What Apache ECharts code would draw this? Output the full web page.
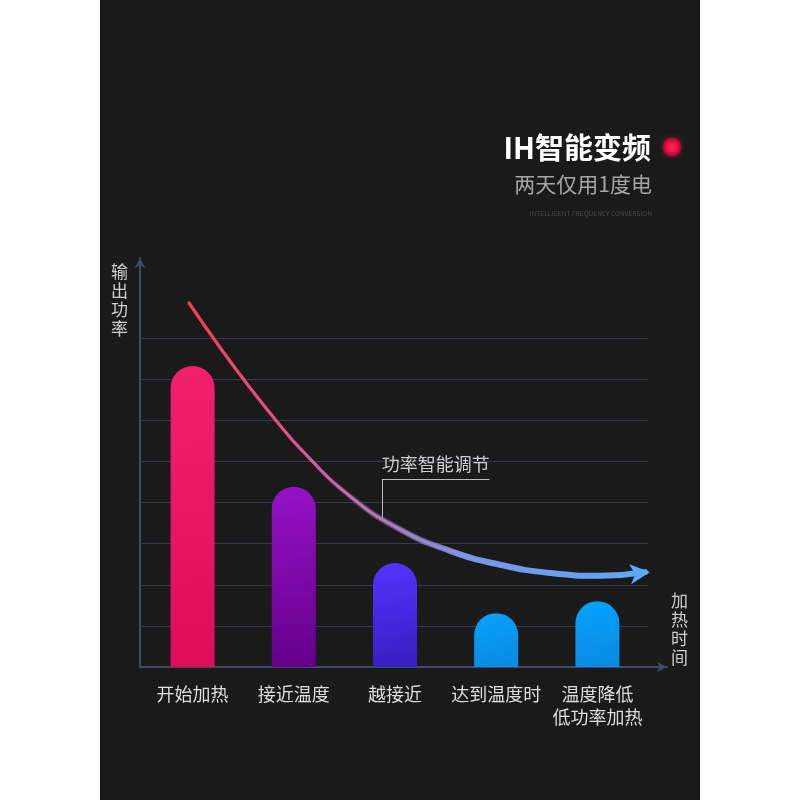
<!DOCTYPE html>
<html><head><meta charset="utf-8">
<script src="https://cdn.jsdelivr.net/npm/echarts@6/dist/echarts.min.js"></script>
<style>
html,body{margin:0;padding:0;background:#fff}
#c{width:800px;height:800px;background:linear-gradient(to right,#fff 0,#fff 100px,#1a1a1a 100px,#1a1a1a 700px,#fff 700px)}
</style>
</head><body><div id="c"></div><script>
// ---- data ----
const categories = ['开始加热', '接近温度', '越接近', '达到温度时', '温度降低\n低功率加热'];
const powerValues = [7.32, 4.38, 2.53, 1.31, 1.60];
const curveTime  = [0.930, 1.518, 2.087, 2.562, 3.036, 3.985, 4.934, 5.882, 6.831, 7.780, 8.729, 9.583];
const curvePower = [8.900, 7.812, 6.826, 6.059, 5.347, 4.174, 3.367, 2.841, 2.499, 2.298, 2.230, 2.320];
const calloutTime = 4.59;
const calloutPower = [3.65, 4.60];
const calloutEndTime = 6.63;
const calloutText = '功率智能调节';
const titleMain = 'IH智能变频';
const titleSub = '两天仅用1度电';
const titleTiny = 'INTELLIGENT FREQUENCY CONVERSION';
const yName = '输出功率';
const xName = '加热时间';

// ---- styles ----
const F = '"Noto Sans CJK SC","Noto Sans",sans-serif';
const barPalette = [
  ['#f3206f', '#df0c5b'],
  ['#9512c6', '#66008c'],
  ['#5434ff', '#381ec4'],
  ['#06a2ff', '#0a8ce4'],
  ['#06a2ff', '#0a8ce4']
];
function grad(stops) {
  return {type: 'linear', x: 188, y: 0, x2: 652, y2: 0, global: true,
          colorStops: stops.map(s => ({offset: s[0], color: s[1]}))};
}
const curveGrad = grad([
  [0, '#f53c58'], [0.2, '#e2508a'], [0.42, '#ac7cc0'], [0.6, '#7c96e6'], [1, '#5aa8fa']
]);
const curveGradThick = grad([
  [0, 'rgba(245,60,88,0)'], [0.28, 'rgba(215,88,148,0)'], [0.45, 'rgba(165,128,198,0.55)'],
  [0.6, 'rgba(124,150,230,1)'], [1, 'rgba(90,168,250,1)']
]);
const axisColor = '#3e4a66';
const gridColor = '#343b4a';

const chart = echarts.init(document.getElementById('c'), null, {renderer: 'canvas'});

function curveSeries(w, color, withArrow, z) {
  const d = curveTime.map((t, i) => {
    const item = {value: [t, curvePower[i]]};
    if (withArrow && i === curveTime.length - 1) {
      item.symbol = 'arrow';
      item.symbolSize = [15, 20];
      item.symbolRotate = -84;
      item.symbolOffset = [5, 0];
      item.itemStyle = {color: '#5eaafa'};
    }
    return item;
  });
  return {
    type: 'line', xAxisIndex: 0, yAxisIndex: 0, data: d, smooth: 0.5,
    symbol: 'none', silent: true, z: z, animation: false,
    lineStyle: {width: w, color: color, cap: 'round'}
  };
}

const baseCurve = curveSeries(3.2, curveGrad, true, 6);
baseCurve.markLine = {
  silent: true, symbol: ['none', 'none'], animation: false,
  label: {show: false},
  lineStyle: {color: '#bdbdbd', width: 1, type: 'solid'},
  data: [
    [{coord: [calloutTime, calloutPower[0]]}, {coord: [calloutTime, calloutPower[1]]}],
    [{coord: [calloutTime, calloutPower[1]],
      label: {show: true, formatter: calloutText, position: 'insideMiddleTop', distance: 6,
              color: '#cfcfcf', fontSize: 18, fontFamily: F}},
     {coord: [calloutEndTime, calloutPower[1]]}]
  ]
};
const thickCurve = curveSeries(6, curveGradThick, false, 5);

const option = {
  animation: false,
  textStyle: {fontFamily: F},
  title: [
    {text: titleMain, right: 149, top: 133, padding: 0,
     textStyle: {color: '#ffffff', fontSize: 29, fontWeight: 'bold', lineHeight: 30, fontFamily: F}},
    {text: titleSub, right: 148, top: 173, padding: 0,
     textStyle: {color: '#a6a6a6', fontSize: 21, fontWeight: 'normal', lineHeight: 22, fontFamily: F}},
    {text: titleTiny, right: 148, top: 209, padding: 0,
     textStyle: {color: '#4a4a4a', fontSize: 6.6, fontWeight: 'normal', lineHeight: 8, fontFamily: F}},
    {text: yName.split('').join('\n'), left: 111, top: 262, padding: 0,
     textStyle: {color: '#cfcfcf', fontSize: 17, fontWeight: 'normal', lineHeight: 19, fontFamily: F}},
    {text: xName.split('').join('\n'), left: 671, top: 591, padding: 0,
     textStyle: {color: '#cfcfcf', fontSize: 17, fontWeight: 'normal', lineHeight: 19, fontFamily: F}}
  ],
  graphic: [
    {type: 'circle', shape: {cx: 672, cy: 147, r: 9.5}, z: 10,
     style: {
       fill: {type: 'radial', x: 0.5, y: 0.5, r: 0.5,
              colorStops: [{offset: 0, color: '#ff2a55'}, {offset: 0.55, color: '#f0103f'}, {offset: 1, color: '#8c0e2c'}]},
       shadowBlur: 5, shadowColor: 'rgba(255,20,70,0.5)'
     }}
  ],
  grid: [
    {left: 140, right: 133, top: 258, bottom: 133},
    {left: 142, right: 152, top: 338, bottom: 133}
  ],
  xAxis: [
    {type: 'value', gridIndex: 0, min: 0, max: 10,
     axisLine: {show: true, symbol: ['none', 'arrow'], symbolSize: [8, 10], lineStyle: {color: axisColor, width: 2}},
     axisTick: {show: false}, axisLabel: {show: false}, splitLine: {show: false}},
    {type: 'category', gridIndex: 1, data: categories,
     axisLine: {show: false}, axisTick: {show: false},
     axisLabel: {color: '#dedede', fontSize: 18, lineHeight: 23, margin: 16, fontFamily: F, interval: 0},
     splitLine: {show: false}}
  ],
  yAxis: [
    {type: 'value', gridIndex: 0, min: 0, max: 10,
     axisLine: {show: true, symbol: ['none', 'arrow'], symbolSize: [8, 10], lineStyle: {color: axisColor, width: 2}},
     axisTick: {show: false}, axisLabel: {show: false}, splitLine: {show: false}},
    {type: 'value', gridIndex: 1, min: 0, max: 8, interval: 1,
     axisLine: {show: false}, axisTick: {show: false}, axisLabel: {show: false},
     splitLine: {show: true, lineStyle: {color: gridColor, width: 1.2}}}
  ],
  series: [
    {
      type: 'bar', xAxisIndex: 1, yAxisIndex: 1, barWidth: 44, z: 3, silent: true,
      data: powerValues.map((v, i) => ({
        value: v,
        itemStyle: {
          borderRadius: [22, 22, 0, 0],
          color: {type: 'linear', x: 0, y: 0, x2: 0.35, y2: 1,
                  colorStops: [{offset: 0, color: barPalette[i][0]}, {offset: 1, color: barPalette[i][1]}]}
        }
      }))
    },
    baseCurve,
    thickCurve
  ]
};
chart.setOption(option);
</script></body></html>
